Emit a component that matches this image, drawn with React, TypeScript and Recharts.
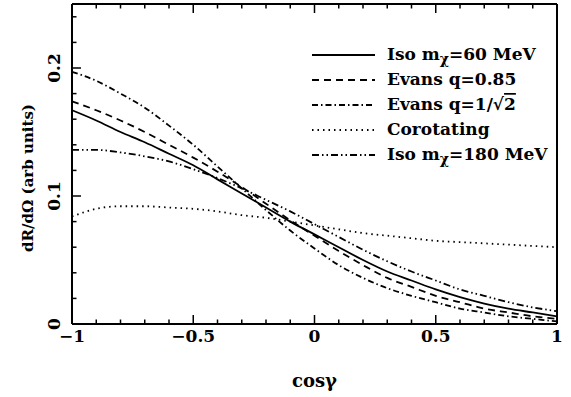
import React from 'react';
import { LineChart, Line, XAxis, YAxis, Legend } from 'recharts';

const cosGamma = [-1, -0.9, -0.8, -0.7, -0.6, -0.5, -0.4, -0.3, -0.2, -0.1, 0, 0.1, 0.2, 0.3, 0.4, 0.5, 0.6, 0.7, 0.8, 0.9, 1];
const iso60 = [0.167, 0.159, 0.150, 0.142, 0.133, 0.124, 0.113, 0.102, 0.091, 0.080, 0.070, 0.060, 0.050, 0.041, 0.034, 0.027, 0.021, 0.016, 0.012, 0.009, 0.006];
const evans085 = [0.174, 0.167, 0.159, 0.150, 0.140, 0.130, 0.119, 0.107, 0.094, 0.081, 0.069, 0.057, 0.046, 0.036, 0.029, 0.022, 0.017, 0.012, 0.009, 0.006, 0.004];
const evansSqrt = [0.197, 0.190, 0.180, 0.169, 0.155, 0.140, 0.123, 0.106, 0.089, 0.073, 0.059, 0.046, 0.036, 0.028, 0.022, 0.017, 0.012, 0.009, 0.006, 0.004, 0.002];
const corotating = [0.084, 0.090, 0.092, 0.092, 0.091, 0.090, 0.088, 0.085, 0.083, 0.080, 0.077, 0.074, 0.071, 0.069, 0.067, 0.065, 0.064, 0.063, 0.062, 0.061, 0.060];
const iso180 = [0.136, 0.136, 0.134, 0.131, 0.127, 0.121, 0.114, 0.106, 0.097, 0.088, 0.078, 0.068, 0.058, 0.049, 0.041, 0.034, 0.027, 0.022, 0.017, 0.013, 0.010];

const xTicks = [-1, -0.9, -0.8, -0.7, -0.6, -0.5, -0.4, -0.3, -0.2, -0.1, 0, 0.1, 0.2, 0.3, 0.4, 0.5, 0.6, 0.7, 0.8, 0.9, 1];
const yTicks = [0, 0.02, 0.04, 0.06, 0.08, 0.1, 0.12, 0.14, 0.16, 0.18, 0.2, 0.22, 0.24];
const xLabels: Record<string, string> = { '-1': '−1', '-0.5': '−0.5', '0': '0', '0.5': '0.5', '1': '1' };
const yLabels: Record<string, string> = { '0': '0', '0.1': '0.1', '0.2': '0.2' };

const data = cosGamma.map((c, i) => ({
  c,
  iso60: iso60[i],
  evans085: evans085[i],
  evansSqrt: evansSqrt[i],
  corotating: corotating[i],
  iso180: iso180[i],
}));

const FONT = '"DejaVu Serif", serif';

const series = [
  { key: 'iso60', dash: undefined as string | undefined },
  { key: 'evans085', dash: '7 5' },
  { key: 'evansSqrt', dash: '6 3 1.5 3' },
  { key: 'corotating', dash: '1.5 4' },
  { key: 'iso180', dash: '7 3 1.5 3 1.5 3' },
];

const isMajorX = (v: number) => Math.abs(v * 2 - Math.round(v * 2)) < 1e-6;
const isMajorY = (v: number) => Math.abs(v * 10 - Math.round(v * 10)) < 1e-6;

const BottomTick = (p: any) => {
  const v = p.payload.value;
  const major = isMajorX(v);
  const lbl = xLabels[String(Math.round(v * 10) / 10)];
  return (
    <g>
      <line x1={p.x} x2={p.x} y1={p.y} y2={p.y - (major ? 9 : 4.5)} stroke="#000" strokeWidth={1.5} />
      {major && lbl !== undefined && (
        <text x={p.x} y={p.y + 18} textAnchor="middle" fontFamily={FONT} fontWeight="bold" fontSize={17} fill="#000">{lbl}</text>
      )}
    </g>
  );
};

const TopTick = (p: any) => {
  const major = isMajorX(p.payload.value);
  return <line x1={p.x} x2={p.x} y1={p.y} y2={p.y + (major ? 9 : 4.5)} stroke="#000" strokeWidth={1.5} />;
};

const LeftTick = (p: any) => {
  const v = p.payload.value;
  const major = isMajorY(v);
  const lbl = yLabels[String(Math.round(v * 10) / 10)];
  const lx = p.x - 12;
  return (
    <g>
      <line x1={p.x} x2={p.x + (major ? 9 : 4.5)} y1={p.y} y2={p.y} stroke="#000" strokeWidth={1.5} />
      {major && lbl !== undefined && (
        <text x={lx} y={p.y} transform={`rotate(-90, ${lx}, ${p.y})`} textAnchor="middle" fontFamily={FONT} fontWeight="bold" fontSize={17} fill="#000">{lbl}</text>
      )}
    </g>
  );
};

const RightTick = (p: any) => {
  const major = isMajorY(p.payload.value);
  return <line x1={p.x} x2={p.x - (major ? 9 : 4.5)} y1={p.y} y2={p.y} stroke="#000" strokeWidth={1.5} />;
};

const XTitle = (p: any) => {
  const vb = p.viewBox || { x: 72, y: 324, width: 485, height: 73 };
  return (
    <text x={vb.x + vb.width / 2} y={vb.y + 63} textAnchor="middle" fontFamily={FONT} fontWeight="bold" fontSize={18} fill="#000">cosγ</text>
  );
};

const YTitle = (p: any) => {
  const vb = p.viewBox || { x: 0, y: 4, width: 72, height: 320 };
  const cx = 33;
  const cy = vb.y + vb.height / 2 + 14;
  return (
    <text x={cx} y={cy} transform={`rotate(-90, ${cx}, ${cy})`} textAnchor="middle" fontFamily={FONT} fontWeight="bold" fontSize={15} fill="#000">dR/dΩ (arb units)</text>
  );
};

const legendRows: { label: React.ReactNode }[] = [
  { label: <>Iso m<tspan dy={4} fontSize={14}>χ</tspan><tspan dy={-4}>=60 MeV</tspan></> },
  { label: <>Evans q=0.85</> },
  { label: <>Evans q=1/√<tspan textDecoration="overline">2</tspan></> },
  { label: <>Corotating</> },
  { label: <>Iso m<tspan dy={4} fontSize={14}>χ</tspan><tspan dy={-4}>=180 MeV</tspan></> },
];

const LegendContent = () => (
  <svg width={262} height={140} style={{ display: 'block' }}>
    {series.map((s, i) => {
      const cy = 15 + i * 25;
      return (
        <g key={s.key}>
          <line x1={12} x2={75} y1={cy} y2={cy} stroke="#000" strokeWidth={1.8} strokeDasharray={s.dash} />
          <text x={87} y={cy + 5} fontFamily={FONT} fontWeight="bold" fontSize={17} fill="#000">{legendRows[i].label}</text>
        </g>
      );
    })}
  </svg>
);

export default function App() {
  return (
    <div style={{ position: 'absolute', left: 0, top: 0, background: '#fff' }}>
      <LineChart width={571} height={397} data={data} margin={{ top: 0, right: 0, bottom: 0, left: 0 }}>
        <XAxis
          dataKey="c"
          type="number"
          domain={[-1, 1]}
          ticks={xTicks}
          interval={0}
          height={73}
          tickSize={0}
          tickMargin={0}
          tickLine={false}
          tick={<BottomTick />}
          axisLine={{ stroke: '#000', strokeWidth: 2 }}
          label={<XTitle />}
        />
        <XAxis
          xAxisId="top"
          orientation="top"
          dataKey="c"
          type="number"
          domain={[-1, 1]}
          ticks={xTicks}
          interval={0}
          height={4}
          tickSize={0}
          tickMargin={0}
          tickLine={false}
          tick={<TopTick />}
          axisLine={{ stroke: '#000', strokeWidth: 2 }}
        />
        <YAxis
          type="number"
          domain={[0, 0.25]}
          ticks={yTicks}
          interval={0}
          width={72}
          tickSize={0}
          tickMargin={0}
          tickLine={false}
          tick={<LeftTick />}
          axisLine={{ stroke: '#000', strokeWidth: 2 }}
          label={<YTitle />}
        />
        <YAxis
          yAxisId="right"
          orientation="right"
          type="number"
          domain={[0, 0.25]}
          ticks={yTicks}
          interval={0}
          width={14}
          tickSize={0}
          tickMargin={0}
          tickLine={false}
          tick={<RightTick />}
          axisLine={{ stroke: '#000', strokeWidth: 2 }}
        />
        <Legend
          layout="vertical"
          align="center"
          verticalAlign="middle"
          content={<LegendContent />}
          wrapperStyle={{ position: 'absolute', left: 300, top: 40, width: 262, height: 140 }}
        />
        {series.map((s) => (
          <Line
            key={s.key}
            dataKey={s.key}
            type="monotone"
            stroke="#000"
            strokeWidth={1.8}
            strokeDasharray={s.dash}
            dot={false}
            activeDot={false}
            isAnimationActive={false}
          />
        ))}
      </LineChart>
    </div>
  );
}
